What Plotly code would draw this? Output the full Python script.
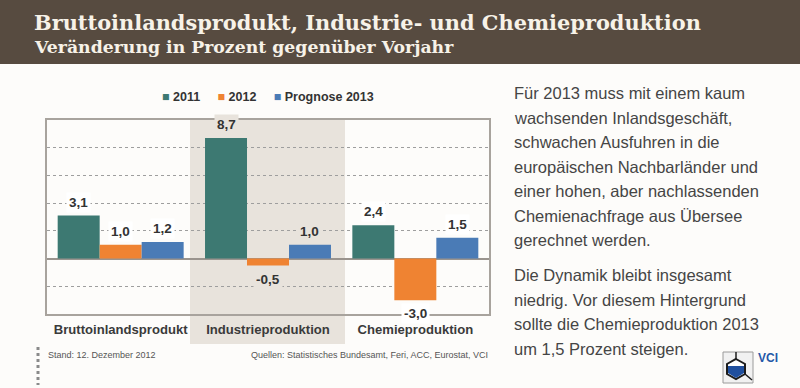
import plotly.graph_objects as go

# ---------------- data ----------------
categories = ["Bruttoinlandsprodukt", "Industrieproduktion", "Chemieproduktion"]
series_names = ["2011", "2012", "Prognose 2013"]
values_2011 = [3.1, 8.7, 2.4]
values_2012 = [1.0, -0.5, -3.0]
values_2013 = [1.2, 1.0, 1.5]
series_values = [values_2011, values_2012, values_2013]
series_colors = ["#3d7972", "#ef8332", "#4a7bb6"]

title = "Bruttoinlandsprodukt, Industrie- und Chemieproduktion"
subtitle = "Veränderung in Prozent gegenüber Vorjahr"
note_left = "Stand: 12. Dezember 2012"
note_right = "Quellen: Statistisches Bundesamt, Feri, ACC, Eurostat, VCI"
side_text_1 = [
    "Für 2013 muss mit einem kaum",
    "wachsenden Inlandsgeschäft,",
    "schwachen Ausfuhren in die",
    "europäischen Nachbarländer und",
    "einer hohen, aber nachlassenden",
    "Chemienachfrage aus Übersee",
    "gerechnet werden.",
]
side_text_2 = [
    "Die Dynamik bleibt insgesamt",
    "niedrig. Vor diesem Hintergrund",
    "sollte die Chemieproduktion 2013",
    "um 1,5 Prozent steigen.",
]

def fmt(v):
    return f"{v:.1f}".replace(".", ",")

# ---------------- layout geometry ----------------
W, H = 800, 388
ML, MR, MT, MB = 47, 311, 120, 74
PW, PH = W - ML - MR, H - MT - MB

def px(x):
    return (x - ML) / PW

def py(y):
    return (H - MB - y) / PH

SANS = "Liberation Sans, Arial, sans-serif"
BAND = "#e8e3dc"
BARGAP = 0.145

fig = go.Figure()
xs = list(range(len(categories)))
for name, vals, col in zip(series_names, series_values, series_colors):
    fig.add_trace(go.Bar(x=xs, y=vals, name=name, marker=dict(color=col, line=dict(width=0)),
                         hoverinfo="skip", showlegend=False))

shapes = []
annotations = []

# header band
shapes.append(dict(type="rect", xref="paper", yref="paper", x0=px(0), x1=px(W), y0=py(64), y1=py(0),
                   fillcolor="#574b40", line=dict(width=0), layer="below"))
# highlighted middle category band
shapes.append(dict(type="rect", xref="paper", yref="paper", x0=px(190), x1=px(345), y0=py(344), y1=1,
                   fillcolor=BAND, line=dict(width=0), layer="below"))
# small dotted mark near footer
shapes.append(dict(type="line", xref="paper", yref="paper", x0=px(38), x1=px(38), y0=py(347), y1=py(385),
                   line=dict(color="#8a8a8a", width=3, dash="dot")))

# legend (small squares + bold labels)
legend_html = "&nbsp;&nbsp;&nbsp;&nbsp;&nbsp;".join(
    f"<span style='color:{c}'>■</span>&nbsp;{n}" for n, c in zip(series_names, series_colors))
annotations.append(dict(x=0.5, y=py(97), xref="paper", yref="paper", xanchor="center", yanchor="middle",
                        text=legend_html, showarrow=False,
                        font=dict(family=SANS, size=12.5, color="#333333", weight=700)))

# data labels
bw = (1 - BARGAP) / len(series_values)
for j, vals in enumerate(series_values):
    for i, v in enumerate(vals):
        xpos = i + (j - (len(series_values) - 1) / 2) * bw
        annotations.append(dict(
            x=xpos, y=v, xref="x", yref="y", text=fmt(v), showarrow=False,
            yanchor="bottom" if v >= 0 else "top", yshift=3 if v >= 0 else -3,
            font=dict(family=SANS, size=13.5, color="#333333", weight=700),
            bgcolor=BAND if i == 1 else "#ffffff", borderpad=2))

# titles
annotations.append(dict(x=px(32), y=py(22), xref="paper", yref="paper", xanchor="left", yanchor="middle",
                        text=title, showarrow=False,
                        font=dict(family="DejaVu Serif, serif", size=20.9, color="#f7f2e8", weight=700)))
annotations.append(dict(x=px(32), y=py(47), xref="paper", yref="paper", xanchor="left", yanchor="middle",
                        text=subtitle, showarrow=False,
                        font=dict(family="DejaVu Serif, serif", size=17.3, color="#f7f2e8", weight=700)))

# footer notes
annotations.append(dict(x=px(46), y=py(355), xref="paper", yref="paper", xanchor="left", yanchor="middle",
                        text=note_left, showarrow=False, font=dict(family=SANS, size=9, color="#555555")))
annotations.append(dict(x=px(490), y=py(355), xref="paper", yref="paper", xanchor="right", yanchor="middle",
                        text=note_right, showarrow=False, font=dict(family=SANS, size=9, color="#555555")))

# side text
for k, line in enumerate(side_text_1):
    annotations.append(dict(x=px(512), y=py(93 + k * 24.5), xref="paper", yref="paper", xanchor="left",
                            yanchor="middle", text=line, showarrow=False,
                            font=dict(family=SANS, size=16.5, color="#454545")))
for k, line in enumerate(side_text_2):
    annotations.append(dict(x=px(512), y=py(275 + k * 24.5), xref="paper", yref="paper", xanchor="left",
                            yanchor="middle", text=line, showarrow=False,
                            font=dict(family=SANS, size=16.5, color="#454545")))

# VCI logo
shapes.append(dict(type="rect", xref="paper", yref="paper", x0=px(723), x1=px(753), y0=py(383), y1=py(352),
                   fillcolor="#f1f1f1", line=dict(color="#9a9a9a", width=1)))
hexpts = [(736, 359), (745, 364), (745, 374), (736, 379), (727, 374), (727, 364)]
hexpath = "M" + " L".join(f"{px(a)},{py(b)}" for a, b in hexpts) + " Z"
shapes.append(dict(type="path", xref="paper", yref="paper", path=hexpath, fillcolor="#ffffff",
                   line=dict(color="#1c1c1c", width=2)))
inner = [(728, 366), (744, 366), (744, 373), (736, 378), (728, 373)]
innerpath = "M" + " L".join(f"{px(a)},{py(b)}" for a, b in inner) + " Z"
shapes.append(dict(type="path", xref="paper", yref="paper", path=innerpath, fillcolor="#1f4f9e",
                   line=dict(width=0)))
shapes.append(dict(type="line", xref="paper", yref="paper", x0=px(736), x1=px(736), y0=py(352), y1=py(359),
                   line=dict(color="#1c1c1c", width=1.5)))
shapes.append(dict(type="line", xref="paper", yref="paper", x0=px(745), x1=px(752), y0=py(374), y1=py(380),
                   line=dict(color="#1c1c1c", width=1.5)))
annotations.append(dict(x=px(756), y=py(358), xref="paper", yref="paper", xanchor="left", yanchor="middle",
                        text="VCI", showarrow=False,
                        font=dict(family=SANS, size=12, color="#2558a8", weight=700)))

fig.update_layout(
    width=W, height=H,
    margin=dict(l=ML, r=MR, t=MT, b=MB, pad=0),
    paper_bgcolor="#fdfcfa", plot_bgcolor="rgba(0,0,0,0)",
    barmode="group", bargap=BARGAP, bargroupgap=0,
    showlegend=False,
    shapes=shapes, annotations=annotations,
    xaxis=dict(range=[-0.5, 2.5], tickvals=xs, ticktext=categories, showgrid=False,
               showline=True, mirror=True, linecolor="#a8a39d", linewidth=1.5,
               ticks="", ticklabelstandoff=3,
               tickfont=dict(family=SANS, size=13.1, color="#3a3a3a", weight=700), zeroline=False),
    yaxis=dict(range=[-4, 10], dtick=2, showticklabels=False, ticks="",
               showgrid=True, gridcolor="#9e9e9e", griddash="dot", gridwidth=1,
               zeroline=True, zerolinecolor="#9a948e", zerolinewidth=1.5,
               showline=True, mirror=True, linecolor="#a8a39d", linewidth=1.5),
)

fig.write_html("out.html", config={"displayModeBar": False},
               post_script="document.body.style.margin='0px';")
